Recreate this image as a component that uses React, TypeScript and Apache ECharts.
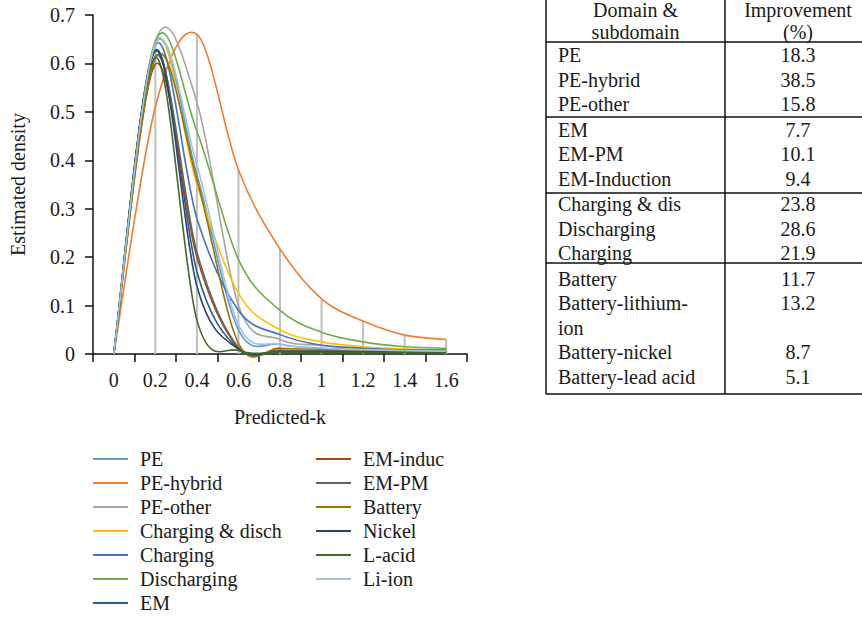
import React, { useEffect, useRef } from "react";
import * as echarts from "echarts";

const categories = ["0", "0.2", "0.4", "0.6", "0.8", "1", "1.2", "1.4", "1.6"];

const seriesNames = [
  "PE", "PE-hybrid", "PE-other", "Charging & disch", "Charging", "Discharging", "EM",
  "EM-induc", "EM-PM", "Battery", "Nickel", "L-acid", "Li-ion",
];

const peValues = [0, 0.64, 0.37, 0.05, 0.02, 0.012, 0.008, 0.006, 0.005];
const peHybridValues = [0, 0.51, 0.66, 0.38, 0.217, 0.114, 0.068, 0.039, 0.03];
const peOtherValues = [0, 0.645, 0.52, 0.1, 0.03, 0.018, 0.012, 0.009, 0.008];
const chargingDischValues = [0, 0.645, 0.35, 0.125, 0.05, 0.025, 0.015, 0.01, 0.008];
const chargingValues = [0, 0.638, 0.28, 0.09, 0.04, 0.018, 0.012, 0.008, 0.006];
const dischargingValues = [0, 0.645, 0.46, 0.195, 0.09, 0.045, 0.025, 0.015, 0.012];
const emValues = [0, 0.627, 0.17, 0.01, 0.006, 0.005, 0.005, 0.005, 0.005];
const emInducValues = [0, 0.598, 0.2, 0.012, 0.006, 0.005, 0.005, 0.005, 0.005];
const emPmValues = [0, 0.615, 0.21, 0.014, 0.008, 0.007, 0.007, 0.007, 0.007];
const batteryValues = [0, 0.61, 0.36, 0.022, 0.012, 0.01, 0.009, 0.008, 0.008];
const nickelValues = [0, 0.625, 0.14, 0.01, 0.005, 0.004, 0.004, 0.004, 0.004];
const leadAcidValues = [0, 0.612, 0.07, 0.007, 0.004, 0.003, 0.003, 0.003, 0.003];
const liIonValues = [0, 0.64, 0.39, 0.06, 0.02, 0.012, 0.009, 0.007, 0.006];

const seriesValues = [
  peValues, peHybridValues, peOtherValues, chargingDischValues, chargingValues,
  dischargingValues, emValues, emInducValues, emPmValues, batteryValues,
  nickelValues, leadAcidValues, liIonValues,
];

const seriesColors = [
  "#5B9BD5", "#ED7D31", "#A5A5A5", "#FFC000", "#4472C4", "#70AD47", "#255E91",
  "#9E480E", "#636363", "#997300", "#264478", "#43682B", "#9DC3E6",
];

const legendLeftNames = seriesNames.slice(0, 7);
const legendRightNames = seriesNames.slice(7);

const yTicks = [0, 0.1, 0.2, 0.3, 0.4, 0.5, 0.6, 0.7];

const tableHeaderLeft = ["Domain &", "subdomain"];
const tableHeaderRight = ["Improvement", "(%)"];
const tableDomains = [
  "PE", "PE-hybrid", "PE-other",
  "EM", "EM-PM", "EM-Induction",
  "Charging & dis", "Discharging", "Charging",
  "Battery", "Battery-lithium-\nion", "Battery-nickel", "Battery-lead acid",
];
const tableImprovements = [
  "18.3", "38.5", "15.8",
  "7.7", "10.1", "9.4",
  "23.8", "28.6", "21.9",
  "11.7", "13.2", "8.7", "5.1",
];
const tableGroups = [0, 0, 0, 1, 1, 1, 2, 2, 2, 3, 3, 3, 3];
const tableRowSlots = [0, 1, 2, 3, 4, 5, 6, 7, 8, 9, 10, 12, 13];

const FONT = "'Liberation Serif', 'DejaVu Serif', serif";
const FS = 20;

export default function App() {
  const ref = useRef<HTMLDivElement>(null);

  useEffect(() => {
    document.body.style.margin = "0";
    const chart = echarts.init(ref.current!, undefined, { renderer: "svg" });

    const dropValues = categories.map((_, i) =>
      Math.max(...seriesValues.map((s) => s[i]))
    );

    // Excel-like smoothed line (Catmull-Rom bezier through the data points)
    const makeRender = (values: number[], color: string) => (params: any, api: any) => {
      const i = params.dataIndex;
      const n = values.length;
      if (i >= n - 1) return { type: "group", children: [] };
      const pt = (j: number) => {
        const k = Math.max(0, Math.min(n - 1, j));
        return api.coord([k, values[k]]);
      };
      const p0 = pt(i - 1);
      const p1 = pt(i);
      const p2 = pt(i + 1);
      const p3 = pt(i + 2);
      const f = 1 / 6;
      const c1 = [p1[0] + (p2[0] - p0[0]) * f, p1[1] + (p2[1] - p0[1]) * f];
      const c2 = [p2[0] - (p3[0] - p1[0]) * f, p2[1] - (p3[1] - p1[1]) * f];
      const d = `M${p1[0]} ${p1[1]} C${c1[0]} ${c1[1]} ${c2[0]} ${c2[1]} ${p2[0]} ${p2[1]}`;
      return {
        type: "path",
        shape: { pathData: d },
        style: { stroke: color, fill: "none", lineWidth: 1.6 },
      };
    };

    const lineSeries: any[] = seriesNames.map((name, i) => ({
      name,
      type: "custom",
      data: seriesValues[i].map((v, j) => [j, v]),
      encode: { x: 0, y: 1 },
      renderItem: makeRender(seriesValues[i], seriesColors[i]),
      itemStyle: { color: seriesColors[i] },
      z: 3,
      silent: true,
    }));

    const dropSeries = {
      name: "drop",
      type: "bar",
      data: dropValues,
      barWidth: 2,
      itemStyle: { color: "#BFBFBF" },
      z: 1,
      silent: true,
    };

    // table graphics
    const tableLeft = 546;
    const colDiv = 725;
    const tableRight = 880;
    const rowY0 = 55;
    const rowStep = 24.5;
    const lineColor = "#111";
    const g: any[] = [];
    const hLine = (y: number) => ({
      type: "line",
      shape: { x1: tableLeft, y1: y, x2: tableRight, y2: y },
      style: { stroke: lineColor, lineWidth: 1.5 },
    });
    g.push({
      type: "line",
      shape: { x1: tableLeft, y1: -2, x2: tableLeft, y2: 394 },
      style: { stroke: lineColor, lineWidth: 1.5 },
    });
    g.push({
      type: "line",
      shape: { x1: colDiv, y1: -2, x2: colDiv, y2: 394 },
      style: { stroke: lineColor, lineWidth: 1.5 },
    });
    g.push(hLine(42));
    g.push(hLine(117));
    g.push(hLine(193));
    g.push(hLine(263));
    g.push(hLine(394));
    const txtStyle = (extra: any) => ({
      fontFamily: FONT,
      fontSize: FS,
      fill: "#1a1a1a",
      verticalAlign: "middle",
      ...extra,
    });
    tableHeaderLeft.forEach((t, i) => {
      g.push({ type: "text", x: 635.5, y: 10 + i * 21.5, style: txtStyle({ text: t, align: "center" }) });
    });
    tableHeaderRight.forEach((t, i) => {
      g.push({ type: "text", x: 798, y: 10 + i * 21.5, style: txtStyle({ text: t, align: "center" }) });
    });
    tableDomains.forEach((t, i) => {
      const y = rowY0 + tableRowSlots[i] * rowStep + tableGroups[i];
      g.push({
        type: "text",
        x: 558,
        y: y - 12,
        style: txtStyle({ text: t, align: "left", verticalAlign: "top", lineHeight: 24.5 }),
      });
      g.push({ type: "text", x: 798, y: y, style: txtStyle({ text: tableImprovements[i], align: "center" }) });
    });

    const legendBase = {
      orient: "vertical",
      icon: "rect",
      itemWidth: 35,
      itemHeight: 2,
      itemGap: 0,
      padding: 0,
      textStyle: {
        fontFamily: FONT,
        fontSize: FS,
        color: "#1a1a1a",
        lineHeight: 24,
        padding: [0, 0, 0, 7],
      },
    };

    chart.setOption({
      animation: false,
      textStyle: { fontFamily: FONT },
      grid: { left: 93, top: 15, right: 395, bottom: 264, containLabel: false },
      legend: [
        { ...legendBase, left: 93, top: 447, data: legendLeftNames },
        { ...legendBase, left: 316, top: 447, data: legendRightNames },
      ],
      xAxis: {
        type: "category",
        data: categories,
        boundaryGap: true,
        name: "Predicted-k",
        nameLocation: "middle",
        nameGap: 53,
        nameTextStyle: { fontFamily: FONT, fontSize: FS, color: "#1a1a1a" },
        axisLine: { lineStyle: { color: "#111", width: 1.5 } },
        axisTick: { show: true, length: 8, alignWithLabel: false, lineStyle: { color: "#111", width: 1.5 } },
        axisLabel: { fontFamily: FONT, fontSize: FS, color: "#1a1a1a", margin: 16 },
        splitLine: { show: false },
      },
      yAxis: {
        type: "value",
        min: 0,
        max: 0.7,
        interval: 0.1,
        name: "Estimated density",
        nameLocation: "middle",
        nameRotate: 90,
        nameGap: 65,
        nameTextStyle: { fontFamily: FONT, fontSize: FS, color: "#1a1a1a" },
        axisLine: { show: true, lineStyle: { color: "#111", width: 1.5 } },
        axisTick: { show: true, length: 8, inside: false, lineStyle: { color: "#111", width: 1.5 } },
        axisLabel: {
          fontFamily: FONT,
          fontSize: FS,
          color: "#1a1a1a",
          margin: 18,
          formatter: (v: number) => {
            const t = yTicks.find((k) => Math.abs(k - v) < 1e-9);
            return t === 0 ? "0" : (t ?? v).toFixed(1);
          },
        },
        splitLine: { show: false },
      },
      series: [dropSeries, ...lineSeries],
      graphic: g,
    });

    return () => chart.dispose();
  }, []);

  return (
    <div
      ref={ref}
      style={{ position: "absolute", left: 0, top: 0, width: 862, height: 618 }}
    />
  );
}
